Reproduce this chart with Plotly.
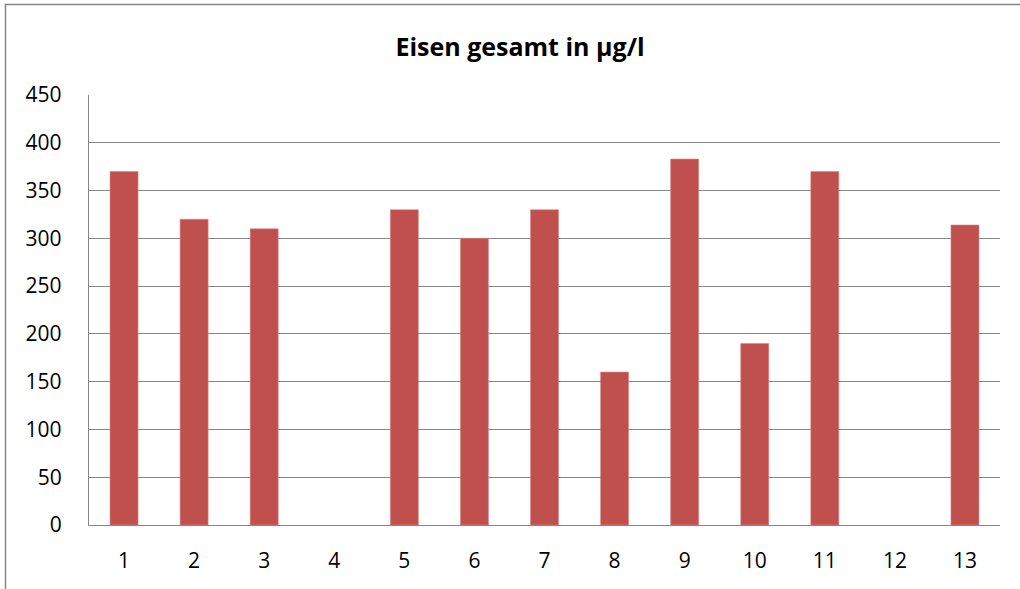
import plotly.graph_objects as go

categories = ["1", "2", "3", "4", "5", "6", "7", "8", "9", "10", "11", "12", "13"]
values = [370, 320, 310, None, 330, 300, 330, 160, 383, 190, 370, None, 314]
title_text = "<b>Eisen gesamt in µg/l</b>"
y_ticks = [0, 50, 100, 150, 200, 250, 300, 350, 400, 450]

W, H = 1020, 589
L, R, T, B = 89, 20, 95, 64
pw = W - L - R
ph = H - T - B

fig = go.Figure()
fig.add_trace(go.Bar(
    x=categories, y=values,
    marker=dict(color="#C0504D", line=dict(color="#D98A88", width=0.6)),
    width=0.4,
))

# outer chart border (cropped on right and bottom)
bx0 = (5.5 - L) / pw
by1 = (H - B - 4.5) / ph
fig.add_shape(type="rect", xref="paper", yref="paper",
              x0=bx0, x1=1.2, y0=-0.3, y1=by1,
              line=dict(color="#868686", width=1.5), fillcolor="rgba(0,0,0,0)",
              layer="below")

fig.update_layout(
    width=W, height=H,
    margin=dict(l=L, r=R, t=T, b=B),
    paper_bgcolor="white", plot_bgcolor="white",
    font=dict(family="Open Sans, Liberation Sans, sans-serif", size=21, color="black"),
    title=dict(text=title_text, x=520 / W, xanchor="center", xref="container",
               y=1 - 47 / H, yanchor="middle", yref="container",
               font=dict(size=25, family="Open Sans, sans-serif")),
    showlegend=False,
    bargap=0.6,
)
fig.update_xaxes(
    type="category",
    showline=True, linecolor="#868686", linewidth=1.3,
    showgrid=False, ticks="", ticklabelstandoff=17,
    tickfont=dict(size=21),
)
fig.update_yaxes(
    range=[0, 450], tickvals=y_ticks,
    showgrid=True, gridcolor="#868686", gridwidth=1.3,
    showline=True, linecolor="#868686", linewidth=1.3,
    zeroline=False, ticks="", ticklabelstandoff=22,
    tickfont=dict(size=21),
)

fig.write_html("out.html", config={"displayModeBar": False},
               post_script="document.body.style.margin='0';document.body.style.overflow='hidden';")
